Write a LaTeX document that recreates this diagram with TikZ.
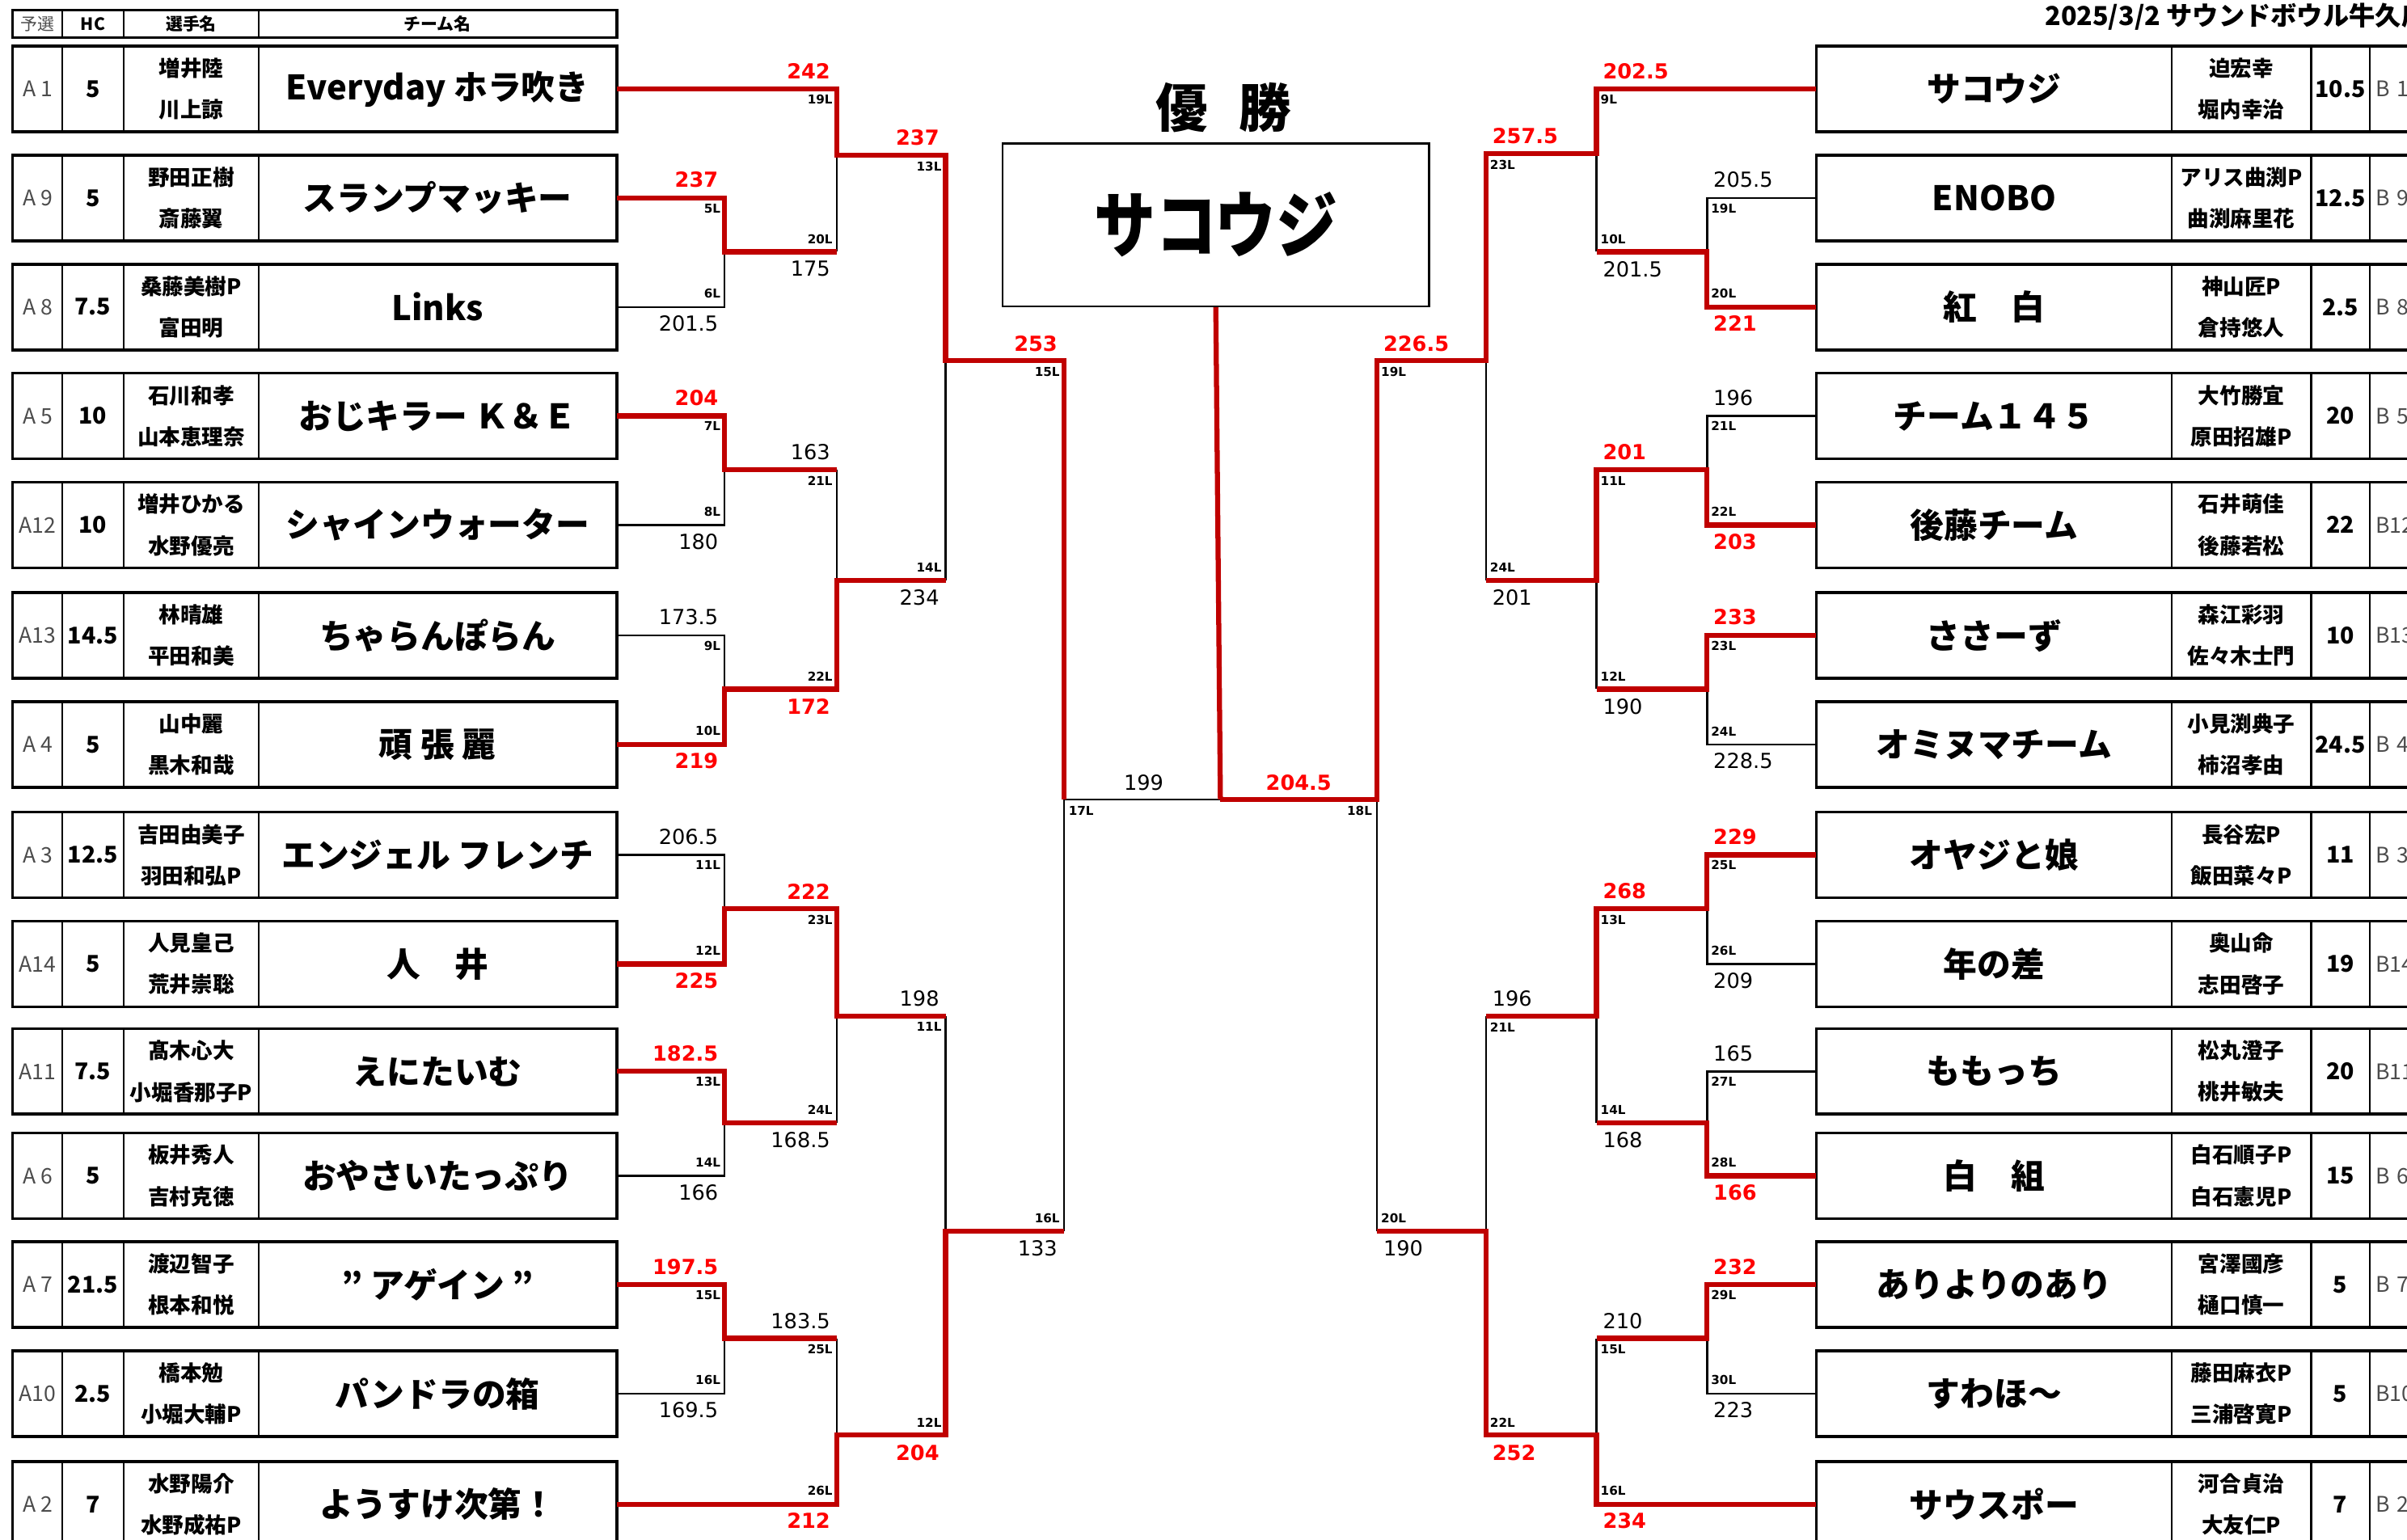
\documentclass[tikz,border=0pt]{standalone}
\usepackage{fontspec}
\setmainfont{DejaVu Sans}
\newfontfamily\jp{Noto Sans CJK JP}
\definecolor{winred}{RGB}{192,0,0}
\definecolor{scorered}{RGB}{255,0,0}
\newcommand\teamfont{\jp\bfseries\fontsize{22}{26}\selectfont}
\newcommand\namefont{\jp\bfseries\fontsize{14}{27}\selectfont}
\newcommand\hcfont{\jp\bfseries\fontsize{15}{18}\selectfont}
\newcommand\seedfont{\jp\fontsize{14}{16}\selectfont}
\newcommand\headfont{\jp\bfseries\fontsize{11}{12}\selectfont}
\tikzset{
 win/.style={draw=winred,line width=3.3pt,line join=miter},
 lose/.style={draw=black,line width=1.3pt},
 cell/.style={draw,line width=1.1pt,inner sep=0pt,minimum height=55pt,anchor=north west},
 hcell/.style={draw,line width=1.1pt,inner sep=0pt,minimum height=17pt,anchor=north west,font=\headfont},
 outer/.style={draw,line width=1.6pt},
 sred/.style={inner sep=0pt,text=scorered,font=\bfseries\fontsize{13.5}{14}\selectfont},
 sblk/.style={inner sep=0pt,text=black,font=\fontsize{13.5}{14}\selectfont},
 nl/.style={inner sep=0pt,text=black,font=\bfseries\fontsize{8}{9}\selectfont},
}
\newcommand\LRow[7]{%
 \node[cell,minimum width=32pt,font=\seedfont,text=black!70] (Ls#1) at (8,#2) {#3};
 \node[cell,minimum width=40pt,font=\hcfont] (Lh#1) at (40,#2) {#4};
 \node[cell,minimum width=88pt,font=\namefont,align=center] (Ln#1) at (80,#2) {#5\\#6};
 \node[cell,minimum width=233pt,font=\teamfont] (Lt#1) at (168,#2) {#7};
 \draw[outer] (Ls#1.north west) rectangle (Lt#1.south east);
}
\newcommand\RRow[7]{%
 \node[cell,minimum width=231pt,font=\teamfont] (Rt#1) at (1183,#2) {#3};
 \node[cell,minimum width=91pt,font=\namefont,align=center] (Rn#1) at (1414,#2) {#4\\#5};
 \node[cell,minimum width=38pt,font=\hcfont] (Rh#1) at (1505,#2) {#6};
 \node[cell,minimum width=52pt,font=\seedfont,text=black!70,text width=44pt,inner xsep=4pt,align=left] (Rs#1) at (1543,#2) {#7};
 \draw[outer] (Rt#1.north west) rectangle (Rs#1.south east);
}
\newcommand\LabUp[6]{%
 \node[#5,anchor=south east] (#1s) at (#2-4,#3-6) {#4};
 \node[nl,anchor=north east] (#1n) at (#2-2.5,#3+4) {#6};}
\newcommand\LabDn[6]{%
 \node[#5,anchor=north east] (#1s) at (#2-4,#3+6) {#4};
 \node[nl,anchor=south east] (#1n) at (#2-2.5,#3-5) {#6};}
\newcommand\RLabUp[6]{%
 \node[#5,anchor=south west] (#1s) at (#2+4,#3-6) {#4};
 \node[nl,anchor=north west] (#1n) at (#2+2.5,#3+4) {#6};}
\newcommand\RLabDn[6]{%
 \node[#5,anchor=north west] (#1s) at (#2+4,#3+6) {#4};
 \node[nl,anchor=south west] (#1n) at (#2+2.5,#3-5) {#6};}
\begin{document}
\begin{tikzpicture}[x=1pt,y=-1pt]
\useasboundingbox[fill=white] (0,0) rectangle (1568,1003);
% header
\node[hcell,minimum width=32pt,font=\jp\fontsize{11}{12}\selectfont,text=black!70] (H1) at (8,6.5) {予選};
\node[hcell,minimum width=40pt] (H2) at (40,6.5) {HC};
\node[hcell,minimum width=88pt] (H3) at (80,6.5) {選手名};
\node[hcell,minimum width=233pt] (H4) at (168,6.5) {チーム名};
\draw[outer] (H1.north west) rectangle (H4.south east);
\node[anchor=west,inner sep=0pt,font=\jp\bfseries\fontsize{17}{19}\selectfont] (title) at (1332,11) {2025/3/2 サウンドボウル牛久店};
% left table
\LRow{1}{30}{A 1}{5}{増井陸}{川上諒}{Everyday ホラ吹き}
\LRow{2}{101}{A 9}{5}{野田正樹}{斎藤翼}{スランプマッキー}
\LRow{3}{172}{A 8}{7.5}{桑藤美樹P}{富田明}{Links}
\LRow{4}{243}{A 5}{10}{石川和孝}{山本恵理奈}{おじキラー Ｋ＆Ｅ}
\LRow{5}{314}{A12}{10}{増井ひかる}{水野優亮}{シャインウォーター}
\LRow{6}{386}{A13}{14.5}{林晴雄}{平田和美}{ちゃらんぽらん}
\LRow{7}{457}{A 4}{5}{山中麗}{黒木和哉}{頑 張 麗}
\LRow{8}{529}{A 3}{12.5}{吉田由美子}{羽田和弘P}{エンジェル フレンチ}
\LRow{9}{600}{A14}{5}{人見皇己}{荒井崇聡}{人　井}
\LRow{10}{670}{A11}{7.5}{髙木心大}{小堀香那子P}{えにたいむ}
\LRow{11}{738}{A 6}{5}{板井秀人}{吉村克徳}{おやさいたっぷり}
\LRow{12}{809}{A 7}{21.5}{渡辺智子}{根本和悦}{” アゲイン ”}
\LRow{13}{880}{A10}{2.5}{橋本勉}{小堀大輔P}{パンドラの箱}
\LRow{14}{952}{A 2}{7}{水野陽介}{水野成祐P}{ようすけ次第！}
% right table
\RRow{1}{30}{サコウジ}{迫宏幸}{堀内幸治}{10.5}{B 1}
\RRow{2}{101}{ENOBO}{アリス曲渕P}{曲渕麻里花}{12.5}{B 9}
\RRow{3}{172}{紅　白}{神山匠P}{倉持悠人}{2.5}{B 8}
\RRow{4}{243}{チーム１４５}{大竹勝宜}{原田招雄P}{20}{B 5}
\RRow{5}{314}{後藤チーム}{石井萌佳}{後藤若松}{22}{B12}
\RRow{6}{386}{ささーず}{森江彩羽}{佐々木士門}{10}{B13}
\RRow{7}{457}{オミヌマチーム}{小見渕典子}{柿沼孝由}{24.5}{B 4}
\RRow{8}{529}{オヤジと娘}{長谷宏P}{飯田菜々P}{11}{B 3}
\RRow{9}{600}{年の差}{奥山命}{志田啓子}{19}{B14}
\RRow{10}{670}{ももっち}{松丸澄子}{桃井敏夫}{20}{B11}
\RRow{11}{738}{白　組}{白石順子P}{白石憲児P}{15}{B 6}
\RRow{12}{809}{ありよりのあり}{宮澤國彦}{樋口慎一}{5}{B 7}
\RRow{13}{880}{すわほ～}{藤田麻衣P}{三浦啓寛P}{5}{B10}
\RRow{14}{952}{サウスポー}{河合貞治}{大友仁P}{7}{B 2}
% champion
\node[inner sep=0pt,font=\jp\bfseries\fontsize{34}{36}\selectfont] (yusho) at (797,70) {優\hspace{20pt}勝};
\node[draw,line width=1.3pt,minimum width=278pt,minimum height=106pt,inner sep=0pt,font=\jp\bfseries\fontsize{47}{50}\selectfont] (champ) at (792,146.5) {\scalebox{0.85}[1]{サコウジ}};
% bracket coordinates
\coordinate (jL1) at (472,164);   \coordinate (jL2) at (472,306);
\coordinate (jL3) at (472,449);   \coordinate (jL4) at (472,592);
\coordinate (jL5) at (472,731.5); \coordinate (jL6) at (472,872);
\coordinate (kL1) at (545,101);   \coordinate (kL2) at (545,378);
\coordinate (kL3) at (545,662);   \coordinate (kL4) at (545,935);
\coordinate (mL1) at (616,235);   \coordinate (mL2) at (616,802);
\coordinate (sL) at (693,521);    \coordinate (F) at (795,521);
\coordinate (jR1) at (1112,164);   \coordinate (jR2) at (1112,306);
\coordinate (jR3) at (1112,449);   \coordinate (jR4) at (1112,592);
\coordinate (jR5) at (1112,731.5); \coordinate (jR6) at (1112,872);
\coordinate (kR1) at (1040,100);   \coordinate (kR2) at (1040,378);
\coordinate (kR3) at (1040,662);   \coordinate (kR4) at (1040,935);
\coordinate (mR1) at (968,235);    \coordinate (mR2) at (968,802);
\coordinate (sR) at (897,521);
% losing lines (left)
\draw[lose] (Lt3.east) -| (jL1);
\draw[lose] (Lt5.east) -| (jL2);
\draw[lose] (Lt6.east) -| (jL3);
\draw[lose] (Lt8.east) -| (jL4);
\draw[lose] (Lt11.east) -| (jL5);
\draw[lose] (Lt13.east) -| (jL6);
\draw[lose] (jL1 -| kL1) -- (kL1);
\draw[lose] (jL2 -| kL2) -- (kL2);
\draw[lose] (jL5 -| kL3) -- (kL3);
\draw[lose] (jL6 -| kL4) -- (kL4);
\draw[lose] (kL2 -| mL1) -- (mL1);
\draw[lose] (kL3 -| mL2) -- (mL2);
\draw[lose] (mL2 -| sL) -- (sL);
\draw[lose] (sL) -- (F);
% losing lines (right)
\draw[lose] (Rt2.west) -| (jR1);
\draw[lose] (Rt4.west) -| (jR2);
\draw[lose] (Rt7.west) -| (jR3);
\draw[lose] (Rt9.west) -| (jR4);
\draw[lose] (Rt10.west) -| (jR5);
\draw[lose] (Rt13.west) -| (jR6);
\draw[lose] (jR1 -| kR1) -- (kR1);
\draw[lose] (jR3 -| kR2) -- (kR2);
\draw[lose] (jR5 -| kR3) -- (kR3);
\draw[lose] (jR6 -| kR4) -- (kR4);
\draw[lose] (kR2 -| mR1) -- (mR1);
\draw[lose] (kR3 -| mR2) -- (mR2);
\draw[lose] (mR2 -| sR) -- (sR);
% winning lines (left)
\draw[win] (Lt2.east) -| (jL1) -- (jL1 -| kL1);
\draw[win] (Lt4.east) -| (jL2) -- (jL2 -| kL2);
\draw[win] (Lt7.east) -| (jL3) -| (kL2) -- (kL2 -| mL1);
\draw[win] (Lt9.east) -| (jL4) -| (kL3) -- (kL3 -| mL2);
\draw[win] (Lt10.east) -| (jL5) -- (jL5 -| kL3);
\draw[win] (Lt12.east) -| (jL6) -- (jL6 -| kL4);
\draw[win] (Lt1.east) -| (kL1) -| (mL1) -| (sL);
\draw[win] (Lt14.east) -| (kL4) -| (mL2) -- (mL2 -| sL);
% winning lines (right)
\draw[win] (Rt3.west) -| (jR1) -- (jR1 -| kR1);
\draw[win] (Rt5.west) -| (jR2) -| (kR2) -- (kR2 -| mR1);
\draw[win] (Rt6.west) -| (jR3) -- (jR3 -| kR2);
\draw[win] (Rt8.west) -| (jR4) -| (kR3) -- (kR3 -| mR2);
\draw[win] (Rt11.west) -| (jR5) -- (jR5 -| kR3);
\draw[win] (Rt12.west) -| (jR6) -- (jR6 -| kR4);
\draw[win] (Rt14.west) -| (kR4) -| (mR2) -- (mR2 -| sR);
\draw[win] (Rt1.west) -| (kR1) -| (mR1) -| (sR) -- (F);
\draw[win] (champ.south) -- (F);
% labels left
\LabUp{a5}{472}{128.5}{237}{sred}{5L}
\LabDn{a6}{472}{199.5}{201.5}{sblk}{6L}
\LabUp{a7}{472}{270.5}{204}{sred}{7L}
\LabDn{a8}{472}{341.5}{180}{sblk}{8L}
\LabUp{a9}{472}{413.5}{173.5}{sblk}{9L}
\LabDn{a10}{472}{484.5}{219}{sred}{10L}
\LabUp{a11}{472}{556.5}{206.5}{sblk}{11L}
\LabDn{a12}{472}{627.5}{225}{sred}{12L}
\LabUp{a13}{472}{697.5}{182.5}{sred}{13L}
\LabDn{a14}{472}{765.5}{166}{sblk}{14L}
\LabUp{a15}{472}{836.5}{197.5}{sred}{15L}
\LabDn{a16}{472}{907.5}{169.5}{sblk}{16L}
\LabUp{b19}{545}{57.5}{242}{sred}{19L}
\LabDn{b20}{545}{164}{175}{sblk}{20L}
\LabUp{b21}{545}{306}{163}{sblk}{21L}
\LabDn{b22}{545}{449}{172}{sred}{22L}
\LabUp{b23}{545}{592}{222}{sred}{23L}
\LabDn{b24}{545}{731.5}{168.5}{sblk}{24L}
\LabUp{b25}{545}{872}{183.5}{sblk}{25L}
\LabDn{b26}{545}{979.5}{212}{sred}{26L}
\LabUp{c13}{616}{101}{237}{sred}{13L}
\LabDn{c14}{616}{378}{234}{sblk}{14L}
\LabUp{c11}{616}{662}{198}{sblk}{11L}
\LabDn{c12}{616}{935}{204}{sred}{12L}
\LabUp{d15}{693}{235}{253}{sred}{15L}
\LabDn{d16}{693}{802}{133}{sblk}{16L}
% labels right
\RLabUp{e19}{1112}{128.5}{205.5}{sblk}{19L}
\RLabDn{e20}{1112}{199.5}{221}{sred}{20L}
\RLabUp{e21}{1112}{270.5}{196}{sblk}{21L}
\RLabDn{e22}{1112}{341.5}{203}{sred}{22L}
\RLabUp{e23}{1112}{413.5}{233}{sred}{23L}
\RLabDn{e24}{1112}{484.5}{228.5}{sblk}{24L}
\RLabUp{e25}{1112}{556.5}{229}{sred}{25L}
\RLabDn{e26}{1112}{627.5}{209}{sblk}{26L}
\RLabUp{e27}{1112}{697.5}{165}{sblk}{27L}
\RLabDn{e28}{1112}{765.5}{166}{sred}{28L}
\RLabUp{e29}{1112}{836.5}{232}{sred}{29L}
\RLabDn{e30}{1112}{907.5}{223}{sblk}{30L}
\RLabUp{f9}{1040}{57.5}{202.5}{sred}{9L}
\RLabDn{f10}{1040}{164}{201.5}{sblk}{10L}
\RLabUp{f11}{1040}{306}{201}{sred}{11L}
\RLabDn{f12}{1040}{449}{190}{sblk}{12L}
\RLabUp{f13}{1040}{592}{268}{sred}{13L}
\RLabDn{f14}{1040}{731.5}{168}{sblk}{14L}
\RLabUp{f15}{1040}{872}{210}{sblk}{15L}
\RLabDn{f16}{1040}{979.5}{234}{sred}{16L}
\RLabUp{g23}{968}{100}{257.5}{sred}{23L}
\RLabDn{g24}{968}{378}{201}{sblk}{24L}
\RLabUp{g21}{968}{662}{196}{sblk}{21L}
\RLabDn{g22}{968}{935}{252}{sred}{22L}
\RLabUp{h19}{897}{235}{226.5}{sred}{19L}
\RLabDn{h20}{897}{802}{190}{sblk}{20L}
% final labels
\node[sblk,anchor=base] (fin199) at (745,515) {199};
\node[nl,anchor=north west] (fin17) at (696,525) {17L};
\node[sred,anchor=base] (fin204) at (846,515) {204.5};
\node[nl,anchor=north east] (fin18) at (894,525) {18L};
\end{tikzpicture}
\end{document}
